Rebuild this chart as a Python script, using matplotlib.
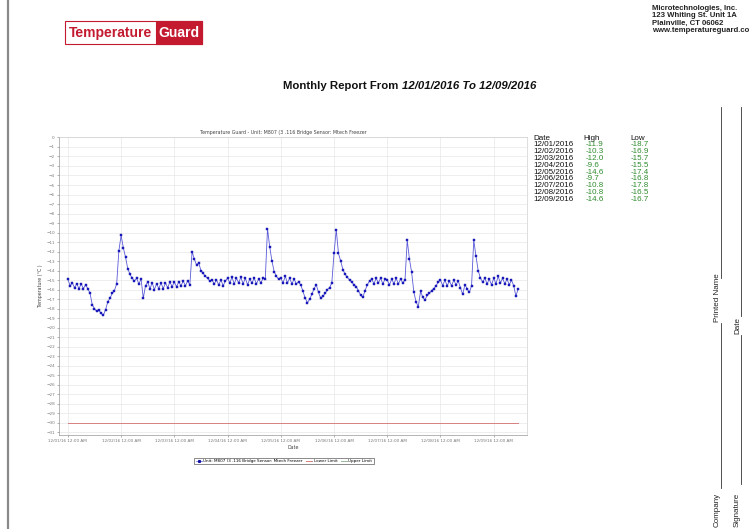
import matplotlib
matplotlib.use('Agg')
import matplotlib.pyplot as plt
import matplotlib.dates as mdates
import pandas as pd
from matplotlib.patches import Rectangle
from matplotlib.lines import Line2D

plt.rcParams['font.family'] = ['Liberation Sans', 'DejaVu Sans']

# Hourly readings (deg C) starting 12/01/2016 12:00 AM
temps = [
    # 12/01
    -14.9, -15.6, -15.3, -15.8, -15.4, -15.9, -15.4, -15.9, -15.5, -15.9, -16.4, -17.6,
    -18.0, -18.3, -18.2, -18.5, -18.7, -18.1, -17.3, -16.9, -16.4, -16.1, -15.4, -11.9,
    # 12/02
    -10.3, -11.6, -12.6, -13.8, -14.4, -14.8, -15.1, -14.8, -15.4, -14.9, -16.9, -15.6,
    -15.2, -15.9, -15.3, -16.0, -15.4, -15.9, -15.3, -15.9, -15.3, -15.8, -15.2, -15.7,
    # 12/03
    -15.2, -15.7, -15.2, -15.6, -15.1, -15.6, -15.1, -15.5, -12.0, -12.8, -13.4, -13.2,
    -14.0, -14.3, -14.6, -14.8, -15.1, -15.0, -15.4, -15.0, -15.5, -15.0, -15.6, -15.1,
    # 12/04
    -14.8, -15.3, -14.7, -15.4, -14.8, -15.3, -14.7, -15.4, -14.8, -15.5, -14.9, -15.3,
    -14.8, -15.4, -14.9, -15.3, -14.8, -14.9, -9.6, -11.5, -13.0, -14.1, -14.6, -14.9,
    # 12/05
    -14.8, -15.3, -14.6, -15.3, -14.8, -15.4, -14.9, -15.4, -15.2, -15.5, -16.2, -16.9,
    -17.4, -17.0, -16.5, -15.9, -15.5, -16.3, -16.9, -16.7, -16.4, -16.0, -15.8, -15.3,
    # 12/06
    -12.2, -9.7, -12.2, -13.0, -13.9, -14.4, -14.7, -15.0, -15.2, -15.5, -15.7, -16.1,
    -16.6, -16.8, -16.1, -15.5, -15.1, -14.9, -15.4, -14.8, -15.3, -14.8, -15.4, -14.9,
    # 12/07
    -15.0, -15.5, -14.9, -15.4, -14.8, -15.4, -14.9, -15.3, -15.0, -10.8, -12.8, -14.2,
    -16.3, -17.3, -17.8, -16.2, -16.8, -17.1, -16.6, -16.4, -16.1, -15.9, -15.6, -15.2,
    # 12/08
    -15.0, -15.6, -15.0, -15.6, -15.1, -15.6, -15.0, -15.5, -15.1, -15.8, -16.5, -15.5,
    -15.9, -16.3, -15.6, -10.8, -12.5, -14.0, -14.8, -15.2, -14.8, -15.4, -14.9, -15.5,
    # 12/09
    -14.8, -15.4, -14.6, -15.3, -14.8, -15.4, -14.9, -15.5, -15.0, -15.6, -16.7, -15.9,
]
times = pd.date_range('2016-12-01 00:00', periods=len(temps), freq='h')
lower_limit = -30.0

table_dates = ['12/01/2016', '12/02/2016', '12/03/2016', '12/04/2016', '12/05/2016',
               '12/06/2016', '12/07/2016', '12/08/2016', '12/09/2016']
table_high = [-11.9, -10.3, -12.0, -9.6, -14.6, -9.7, -10.8, -10.8, -14.6]
table_low = [-18.7, -16.9, -15.7, -15.5, -17.4, -16.8, -17.8, -16.5, -16.7]

unit_label = 'Unit: M807 (3 .116 Bridge Sensor: Mtech Freezer'
chart_title = 'Temperature Guard - ' + unit_label

W, H = 753, 529
def fx(x): return x / W
def fy(y): return 1 - y / H

fig = plt.figure(figsize=(W / 100, H / 100), dpi=100)

# left page border
fig.add_artist(Line2D([fx(8), fx(8)], [0, 1], color='#8a8a8a', lw=1.6))

# logo
RED = '#c41a30'
fig.add_artist(Rectangle((fx(65), fy(44)), (202 - 65) / W, 23 / H, facecolor='white',
                         edgecolor=RED, lw=0.8, transform=fig.transFigure))
fig.add_artist(Rectangle((fx(156), fy(44)), (202 - 156) / W, 23 / H, facecolor=RED,
                         edgecolor=RED, lw=0.8, transform=fig.transFigure))
fig.text(fx(110.5), fy(33), 'Temperature', color=RED, fontsize=10, fontweight='bold',
         ha='center', va='center')
fig.text(fx(179), fy(33), 'Guard', color='white', fontsize=10, fontweight='bold',
         ha='center', va='center')

# company address (the reference page cuts the URL at the edge)
for i, line in enumerate(['Microtechnologies, Inc.', '123 Whiting St. Unit 1A',
                          'Plainville, CT 06062', 'www.temperatureguard.co']):
    fig.text(fx(652), fy(8 + i * 7.5), line, fontsize=5.6, fontweight='bold',
             color='#222222', ha='left', va='center')

# report title
t1 = fig.text(fx(283), fy(86), 'Monthly Report From ', fontsize=8.2, fontweight='bold',
              color='#111111', ha='left', va='center')
fig.canvas.draw()
bb = t1.get_window_extent()
fig.text(bb.x1 / W, fy(86), '12/01/2016 To 12/09/2016', fontsize=8.2, fontweight='bold',
         style='italic', color='#111111', ha='left', va='center')

# chart
ax = fig.add_axes([fx(59), fy(435), (527 - 59) / W, (435 - 137) / H])
ax.plot(times, temps, color='#5a5ad8', lw=0.6, marker='s', ms=1.6,
        mfc='#2020c8', mec='#1010a8', mew=0.3, zorder=3)
ax.plot([times[0], times[-1]], [lower_limit, lower_limit], color='#d88080', lw=0.7)

ax.set_ylim(-31.3, 0.05)
ax.set_xlim(times[0] - pd.Timedelta(hours=4), times[0] + pd.Timedelta(hours=207))
ax.set_yticks(range(0, -32, -1))
ax.xaxis.set_major_locator(mdates.DayLocator())
ax.xaxis.set_major_formatter(mdates.DateFormatter('%m/%d/%y %I:%M %p'))
ax.tick_params(labelsize=3, colors='#777777', length=1.5, width=0.4, pad=1.5)
ax.grid(color='#e8e8e8', lw=0.5)
ax.set_axisbelow(True)
for s in ['top', 'right']:
    ax.spines[s].set_color('#d0d0d0')
for s in ['left', 'bottom']:
    ax.spines[s].set_color('#999999')
for s in ax.spines.values():
    s.set_linewidth(0.5)
ax.set_title(chart_title, fontsize=3.4, color='#444444', pad=2, family='DejaVu Sans',
             x=(283 - 59) / (527 - 59))
ax.set_xlabel('Date', fontsize=3.4, color='#444444', labelpad=1.5, family='DejaVu Sans')
ax.set_ylabel('Temperature (°C )', fontsize=3.4, color='#444444', labelpad=2,
              family='DejaVu Sans')
for lab in ax.get_xticklabels() + ax.get_yticklabels():
    lab.set_family('DejaVu Sans')

handles = [Line2D([], [], color='#5a5ad8', lw=0.5, marker='s', ms=1.2, mfc='#2020c8', mec='#1010a8'),
           Line2D([], [], color='#d88080', lw=0.7),
           Line2D([], [], color='#9ab89a', lw=0.7)]
leg = fig.legend(handles, [unit_label, 'Lower Limit', 'Upper Limit'], loc='center',
                 bbox_to_anchor=(fx(284), fy(461)), ncol=3,
                 prop={'family': 'DejaVu Sans', 'size': 3},
                 frameon=True, fancybox=False, edgecolor='#333333', handlelength=1.4,
                 handletextpad=0.4, columnspacing=0.8, borderpad=0.35)
leg.get_frame().set_linewidth(0.5)

# daily high/low table
GREEN = '#2e8b2e'
fig.text(fx(533), fy(138.5), 'Date', fontsize=5.8, ha='left', va='center', color='#111111')
fig.text(fx(583), fy(138.5), 'High', fontsize=5.8, ha='left', va='center', color='#111111')
fig.text(fx(630), fy(138.5), 'Low', fontsize=5.8, ha='left', va='center', color='#111111')
for i, (d, hi, lo) in enumerate(zip(table_dates, table_high, table_low)):
    y = 144.5 + i * 6.9
    fig.text(fx(533), fy(y), d, fontsize=5.8, ha='left', va='center', color='#111111')
    fig.text(fx(586), fy(y), f'{hi:.1f}', fontsize=5.8, ha='left', va='center', color=GREEN)
    fig.text(fx(631), fy(y), f'{lo:.1f}', fontsize=5.8, ha='left', va='center', color=GREEN)

# signature block (rotated)
sig_kw = dict(fontsize=5.8, rotation=90, ha='right', color='#222222')
fig.text(fx(721), fy(527), 'Company', va='bottom', **sig_kw)
fig.text(fx(721), fy(322), 'Printed Name', va='bottom', **sig_kw)
fig.text(fx(741), fy(527), 'Signature', va='bottom', **sig_kw)
fig.text(fx(741), fy(334), 'Date', va='bottom', **sig_kw)
for x, segs in [(721, [(488, 323), (278, 107)]), (741, [(484, 335), (316, 107)])]:
    for y0, y1 in segs:
        fig.add_artist(Line2D([fx(x), fx(x)], [fy(y0), fy(y1)], color='#333333', lw=0.6))

fig.savefig('out.png', dpi=100)
